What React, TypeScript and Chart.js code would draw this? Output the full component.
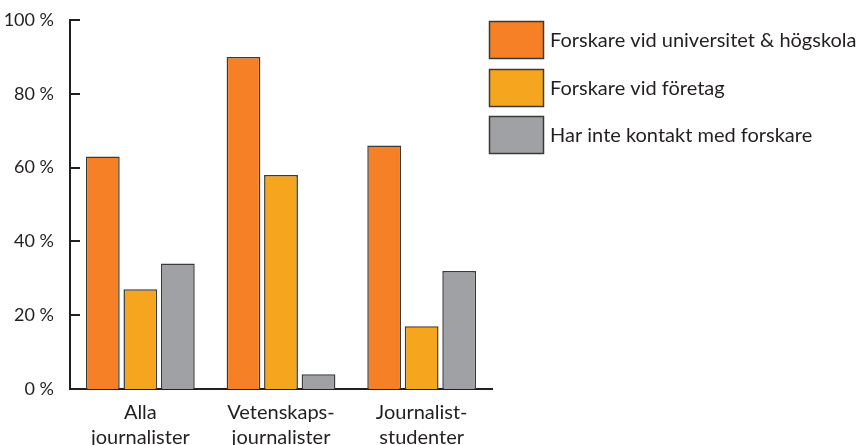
import { useEffect, useRef } from "react";
import { Chart, registerables } from "chart.js";

Chart.register(...registerables);

const categories = [
  ["Alla", "journalister"],
  ["Vetenskaps-", "journalister"],
  ["Journalist-", "studenter"],
];
const seriesNames = [
  "Forskare vid universitet & högskola",
  "Forskare vid företag",
  "Har inte kontakt med forskare",
];
const universitetValues = [63, 90, 66];
const foretagValues = [27, 58, 17];
const ingenKontaktValues = [34, 4, 32];
const yTicks = [0, 20, 40, 60, 80, 100];
const yTickLabels = ["0 %", "20 %", "40 %", "60 %", "80 %", "100 %"];
const seriesColors = ["#f58025", "#f6a61e", "#a0a1a4"];

const FONT = "Lato";
const INK = "#231f20";
const EDGE = "#3a3a3a";

const inwardTicks = {
  id: "inwardTicks",
  afterDraw(chart: any) {
    const { ctx, chartArea, scales } = chart;
    const y = scales.y;
    ctx.save();
    ctx.strokeStyle = INK;
    ctx.lineWidth = 2;
    yTicks.forEach((v) => {
      const py = Math.round(y.getPixelForValue(v));
      ctx.beginPath();
      ctx.moveTo(chartArea.left - 1, py);
      ctx.lineTo(chartArea.left + 10, py);
      ctx.stroke();
    });
    ctx.restore();
  },
};

const boxLegend = {
  id: "boxLegend",
  afterDraw(chart: any) {
    const { ctx } = chart;
    const x0 = 489;
    const y0 = 21;
    const w = 54;
    const h = 37;
    const step = 47.7;
    ctx.save();
    chart.data.datasets.forEach((ds: any, i: number) => {
      const y = Math.round(y0 + i * step) + 0.5;
      ctx.fillStyle = ds.backgroundColor;
      ctx.fillRect(x0 + 0.5, y, w, h);
      ctx.strokeStyle = EDGE;
      ctx.lineWidth = 1.5;
      ctx.strokeRect(x0 + 0.5, y, w, h);
      ctx.fillStyle = INK;
      ctx.font = `20px ${FONT}`;
      ctx.textBaseline = "middle";
      ctx.textAlign = "left";
      ctx.fillText(ds.label, x0 + w + 7, y + h / 2 + 1);
    });
    ctx.restore();
  },
};

export default function App() {
  const ref = useRef<HTMLCanvasElement | null>(null);

  useEffect(() => {
    if (!ref.current) return;
    const valueSets = [universitetValues, foretagValues, ingenKontaktValues];
    const chart = new Chart(ref.current, {
      type: "bar",
      data: {
        labels: categories,
        datasets: valueSets.map((vals, i) => ({
          label: seriesNames[i],
          data: vals,
          backgroundColor: seriesColors[i],
          borderColor: EDGE,
          borderWidth: 1.5,
          categoryPercentage: 0.8,
          barPercentage: 0.9,
        })),
      },
      options: {
        responsive: false,
        animation: false,
        layout: { padding: { top: 20, right: 369, left: 0, bottom: 0 } },
        plugins: {
          legend: { display: false },
          tooltip: { enabled: false },
        },
        scales: {
          x: {
            grid: { display: false },
            border: { display: true, color: INK, width: 2 },
            ticks: {
              color: INK,
              font: { family: FONT, size: 20, lineHeight: 1.25 },
              padding: 3,
              maxRotation: 0,
              autoSkip: false,
            },
            afterFit: (s: any) => {
              s.height = 56;
            },
          },
          y: {
            min: 0,
            max: 100,
            grid: { display: false },
            border: { display: true, color: INK, width: 2 },
            ticks: {
              stepSize: 20,
              color: INK,
              padding: 8,
              font: { family: FONT, size: 18 },
              callback: (v: any) => yTickLabels[yTicks.indexOf(Number(v))],
            },
            afterFit: (s: any) => {
              s.width = 70;
            },
          },
        },
      },
      plugins: [inwardTicks, boxLegend],
    });
    return () => chart.destroy();
  }, []);

  return (
    <div style={{ position: "absolute", left: 0, top: 0, width: 861, height: 445, background: "#fff" }}>
      <canvas ref={ref} width={861} height={445} />
    </div>
  );
}
